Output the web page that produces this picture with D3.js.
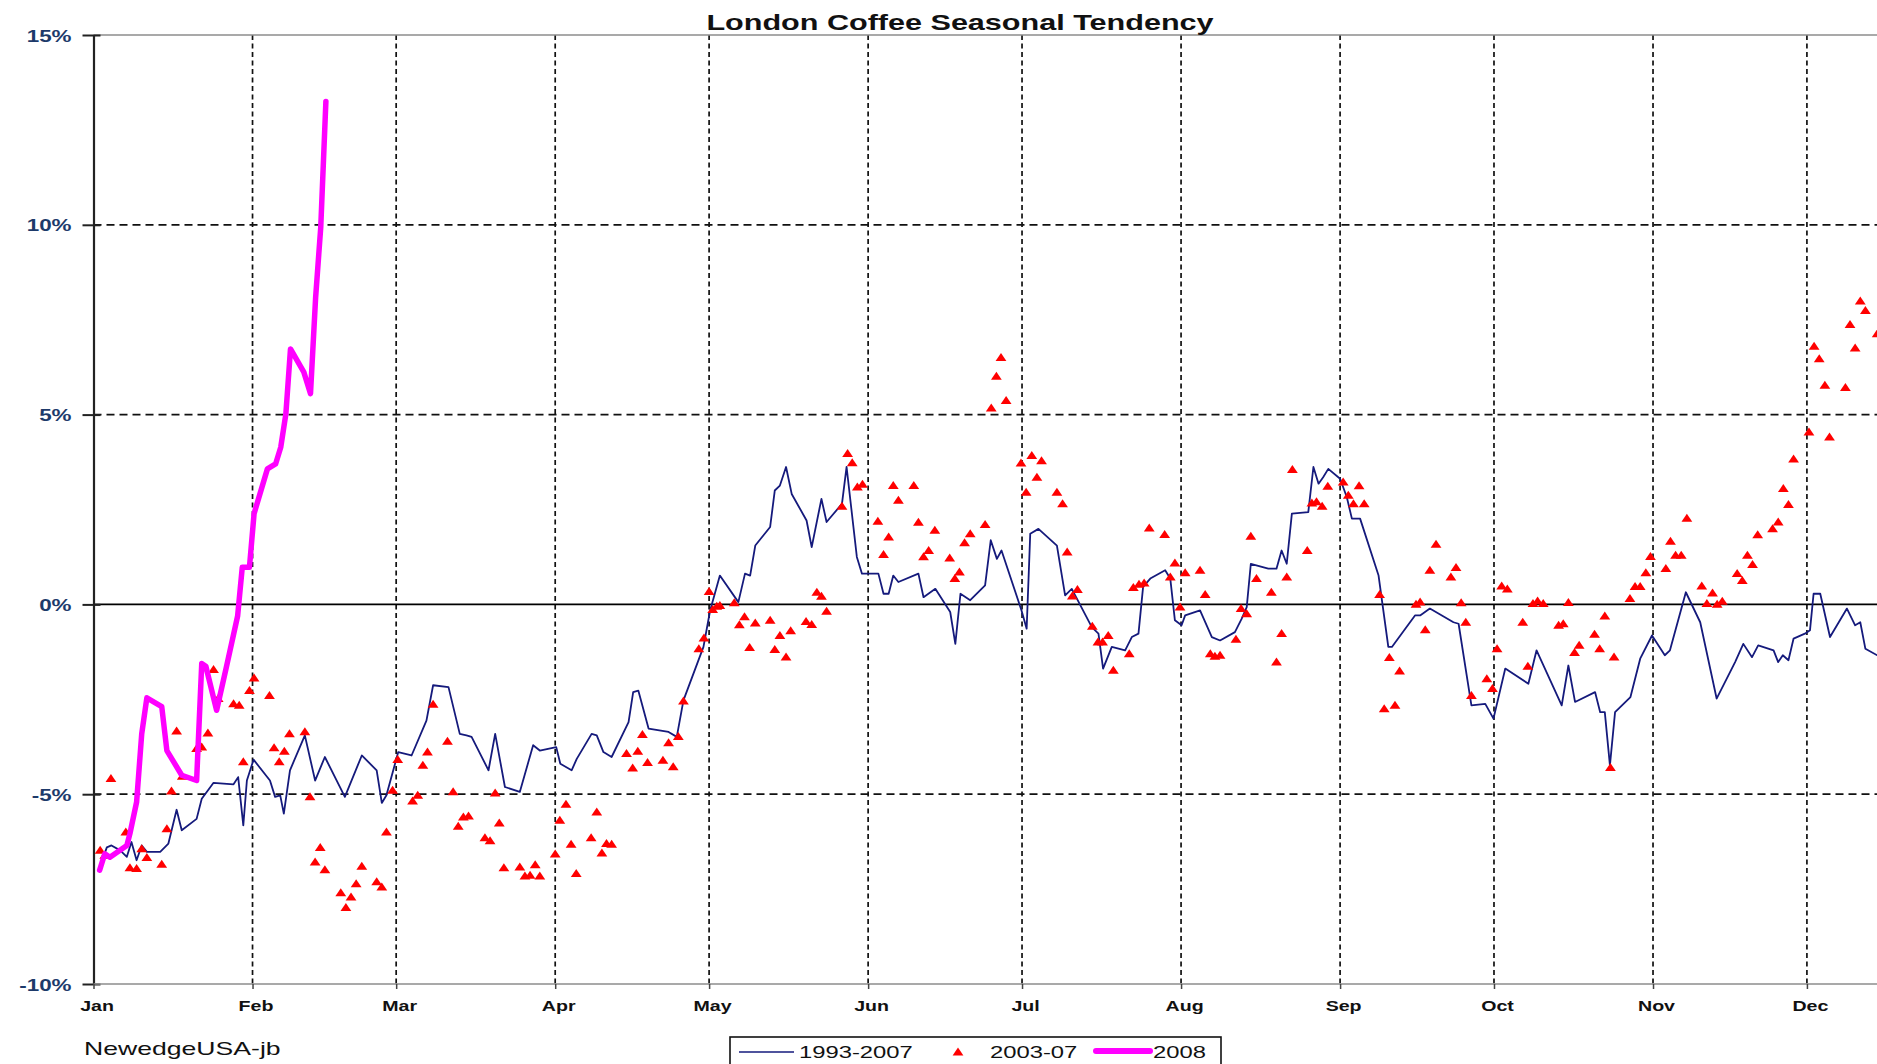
<!DOCTYPE html>
<html>
<head>
<meta charset="utf-8">
<title>London Coffee Seasonal Tendency</title>
<script src="https://cdn.jsdelivr.net/npm/d3@7"></script>
<style>
  html, body { margin: 0; padding: 0; background: #fff; }
  svg { display: block; font-family: Arial, "Liberation Sans", Helvetica, sans-serif; }
</style>
</head>
<body>
<svg id="chart" width="1877" height="1064"></svg>
<script>
// ---- data: [day of year (0 = Jan 1), % change] ----
const monthLabels = ["Jan","Feb","Mar","Apr","May","Jun","Jul","Aug","Sep","Oct","Nov","Dec"];
const yTicks = [-10, -5, 0, 5, 10, 15];
const seriesNames = ["1993-2007", "2003-07", "2008"];

// 1993-2007 average path
const avgSeries = [
  [1,-7.0],[2.6,-6.4],[3.5,-6.35],[5.2,-6.48],[6.5,-6.65],[7.4,-6.26],[8.4,-6.74],[9.4,-6.35],[10.4,-6.52],[13,-6.52],
  [14.6,-6.3],[16.2,-5.41],[17.2,-5.95],[20.1,-5.65],[21.1,-5.12],[23.4,-4.7],[27.3,-4.74],[28.2,-4.55],[29.2,-5.82],[29.9,-4.64],
  [31.2,-4.09],[34.4,-4.64],[35.4,-5.07],[36.4,-5.03],[37.1,-5.51],[38.3,-4.37],[41.2,-3.45],[43.2,-4.64],[45.1,-4.02],[49,-5.07],
  [52.3,-3.98],[55.2,-4.37],[56.2,-5.23],[57.1,-5.03],[59.4,-3.89],[62,-3.98],[64.9,-3.06],[66.2,-2.13],[69.2,-2.18],[71.4,-3.41],
  [72.7,-3.45],[73.7,-3.49],[77,-4.37],[78.3,-3.41],[80.2,-4.81],[83.1,-4.94],[85.7,-3.71],[87,-3.85],[90.2,-3.76],[91,-4.2],
  [93.2,-4.37],[94.2,-4.07],[97.1,-3.41],[98.1,-3.45],[99.4,-3.89],[101,-4.02],[104.3,-3.1],[105.2,-2.31],[106.2,-2.27],[108.2,-3.27],
  [112.1,-3.36],[113.7,-3.49],[115,-2.53],[118.9,-1.12],[120.2,-0.16],[122.1,0.76],[125.7,0.06],[127,0.81],[128,0.76],[129,1.55],
  [131.9,2.04],[132.8,3.0],[133.8,3.13],[135,3.62],[136.1,2.91],[139,2.21],[140,1.51],[141.9,2.78],[142.9,2.17],[145.9,2.65],
  [146.8,3.62],[148.8,1.25],[149.8,0.81],[153,0.81],[154,0.28],[155,0.28],[155.9,0.76],[156.9,0.59],[160.8,0.81],[161.8,0.19],
  [164.1,0.41],[167,-0.2],[168,-1.04],[169,0.28],[170.9,0.11],[173.8,0.5],[174.9,1.69],[176.1,1.2],[177,1.42],[180.9,-0.16],
  [181.9,-0.64],[182.6,1.86],[184.2,1.99],[187.8,1.55],[189.4,0.24],[190.7,0.41],[194.6,-0.6],[195.9,-0.77],[196.8,-1.69],[198.5,-1.12],
  [201.1,-1.21],[202.4,-0.86],[203.7,-0.77],[204.6,0.46],[206,0.68],[208.9,0.9],[209.9,0.68],[210.8,-0.42],[212.1,-0.55],[212.8,-0.29],
  [215.7,-0.16],[218,-0.86],[219.6,-0.95],[222.5,-0.73],[223.8,-0.38],[224.8,-0.07],[225.6,1.07],[229,0.94],[230.6,0.94],[231.6,1.42],
  [232.6,1.07],[233.6,2.39],[236.8,2.43],[237.8,3.62],[238.8,3.18],[239.7,3.35],[240.7,3.57],[243,3.31],[244.3,2.83],[245.3,2.26],
  [246.9,2.26],[250.5,0.76],[252.4,-1.12],[253.1,-1.12],[257.6,-0.29],[258.6,-0.29],[260.5,-0.11],[265.1,-0.47],[266.1,-0.51],[268.6,-2.66],
  [271.3,-2.62],[272.9,-3.01],[275.2,-1.69],[279.7,-2.09],[281.3,-1.21],[286.2,-2.66],[287.5,-1.61],[288.8,-2.57],[292.7,-2.31],[293.7,-2.84],
  [294.6,-2.84],[295.6,-4.24],[296.6,-2.84],[299.6,-2.44],[301.5,-1.43],[303.8,-0.82],[306.3,-1.34],[307.3,-1.21],[310.4,0.32],[313.2,-0.47],
  [316.4,-2.48],[320,-1.52],[321.6,-1.04],[323.3,-1.39],[324.5,-1.08],[327.5,-1.21],[328.4,-1.52],[329.3,-1.34],[330.4,-1.47],[331.4,-0.9],
  [333.6,-0.77],[334.6,-0.68],[335.3,0.28],[336.6,0.28],[338.5,-0.86],[341.8,-0.11],[343.4,-0.55],[344.4,-0.47],[345.4,-1.17],[347.7,-1.34],
  [349,-1.4]
];

// 2003-07 average, drawn as markers
const recentSeries = [
  [1.3,-6.48],[2.2,-6.61],[3.4,-4.59],[6.3,-6.0],[7.1,-6.94],[8.4,-6.96],[9.4,-6.44],[10.4,-6.67],[13.3,-6.85],[14.3,-5.91],
  [15.2,-4.92],[16.2,-3.34],[17.3,-4.53],[20.1,-3.8],[21.1,-3.76],[22.3,-3.39],[23.4,-1.72],[24.3,-2.48],[27.3,-2.62],[28.4,-2.66],
  [29.2,-4.15],[30.4,-2.27],[31.3,-1.94],[34.3,-2.4],[35.2,-3.78],[36.2,-4.15],[37.2,-3.87],[38.2,-3.41],[41.2,-3.36],[42.2,-5.07],
  [43.2,-6.79],[44.2,-6.41],[45.1,-6.99],[48.2,-7.6],[49.2,-7.99],[50.2,-7.71],[51.2,-7.36],[52.3,-6.9],[55.2,-7.31],[56.2,-7.45],
  [57.1,-6.0],[58.3,-4.9],[59.3,-4.09],[62.2,-5.18],[63.2,-5.03],[64.2,-4.24],[65.1,-3.89],[66.2,-2.63],[69.0,-3.61],[70.1,-4.94],
  [71.1,-5.85],[72.1,-5.6],[73.1,-5.58],[76.3,-6.15],[77.3,-6.23],[78.3,-4.97],[79.1,-5.76],[80.0,-6.94],[83.1,-6.92],[84.1,-7.16],
  [85.1,-7.14],[86.1,-6.86],[87.0,-7.16],[90.0,-6.58],[90.9,-5.69],[92.1,-5.27],[93.1,-6.32],[94.1,-7.09],
  [97.0,-6.15],[98.1,-5.47],[99.1,-6.55],[100.0,-6.3],[101.0,-6.32],[103.9,-3.93],[105.1,-4.31],[106.1,-3.87],[107.0,-3.43],[108.0,-4.17],
  [111.0,-4.11],[112.1,-3.65],[113.0,-4.28],[114.0,-3.48],[115.0,-2.55],[118.0,-1.17],[119.0,-0.89],[120.0,0.34],[120.7,-0.14],[121.5,-0.05],
  [122.1,-0.03],[124.9,0.04],[125.9,-0.54],[126.9,-0.33],[127.9,-1.14],[129.0,-0.49],[131.9,-0.42],[132.8,-1.19],[133.8,-0.82],[135.0,-1.39],
  [135.9,-0.7],[138.9,-0.45],[140.0,-0.53],[141.0,0.32],[141.9,0.21],[142.9,-0.18],[145.9,2.58],[147.0,3.97],[147.9,3.73],[148.9,3.09],
  [149.9,3.16],[152.9,2.19],[154.0,1.31],[155.0,1.77],[155.9,3.13],[156.9,2.74],[159.9,3.13],[160.8,2.16],[161.8,1.25],[162.8,1.42],
  [164.0,1.95],[166.9,1.22],[167.9,0.68],[168.8,0.85],[169.8,1.62],[170.9,1.86],[173.8,2.1],
  [175.0,5.17],[176.0,6.01],[176.9,6.5],[177.9,5.37],[180.8,3.72],[181.8,2.95],[182.9,3.92],[183.9,3.35],[184.8,3.78],[187.8,2.95],
  [188.9,2.65],[189.8,1.38],[190.8,0.22],[191.8,0.39],[194.7,-0.58],[195.8,-0.99],[196.7,-0.99],[197.8,-0.82],[198.8,-1.74],[201.9,-1.3],
  [202.7,0.44],[203.8,0.53],[204.8,0.56],[205.8,2.01],[208.8,1.84],[209.9,0.72],[210.8,1.09],[211.8,-0.07],[212.8,0.83],[215.7,0.9],
  [216.7,0.26],[217.7,-1.3],[218.6,-1.37],[219.6,-1.34],[222.7,-0.92],[223.7,-0.11],[224.8,-0.25],[225.6,1.79],[226.7,0.68],[229.6,0.32],
  [230.6,-1.52],[231.6,-0.77],[232.6,0.72],[233.7,3.55],[236.6,1.42],[237.5,2.67],[238.4,2.7],[239.5,2.58],[240.6,3.11],
  [243.6,3.22],[244.6,2.87],[245.6,2.65],[246.7,3.12],[247.7,2.65],[250.7,0.26],[251.6,-2.75],[252.6,-1.4],[253.7,-2.66],[254.6,-1.76],
  [257.8,0.0],[258.6,0.06],[259.6,-0.67],[260.5,0.9],[261.7,1.58],[264.6,0.72],[265.6,0.97],[266.6,0.04],[267.5,-0.47],[268.6,-2.4],
  [271.6,-1.96],[272.7,-2.22],[273.6,-1.17],[274.5,0.48],[275.6,0.4],[278.6,-0.47],[279.6,-1.63],[280.6,0.02],[281.5,0.09],[282.6,0.02],
  [285.6,-0.55],[286.5,-0.51],[287.5,0.05],[288.7,-1.27],[289.6,-1.08],[292.6,-0.79],[293.6,-1.17],[294.6,-0.31],[295.7,-4.3],[296.4,-1.39],
  [299.5,0.15],[300.5,0.47],[301.5,0.47],[302.6,0.83],[303.5,1.26],[306.5,0.94],[307.4,1.66],[308.4,1.29],[309.5,1.29],[310.6,2.27],
  [313.5,0.48],[314.5,0.02],[315.6,0.3],[316.5,0.0],[317.5,0.08],[320.4,0.81],[321.4,0.63],[322.4,1.29],[323.4,1.05],[324.4,1.83],
  [327.3,1.99],[328.4,2.17],[329.4,3.05],[330.4,2.63],[331.4,3.83],[334.4,4.54],[335.4,6.8],[336.4,6.47],[337.5,5.77],[338.4,4.41],
  [341.5,5.71],[342.4,7.37],[343.4,6.75],[344.4,7.99],[345.4,7.74],[347.7,7.13]
];

// 2008 year to date
const series2008 = [
  [1.2,-7.0],[2.2,-6.57],[3.2,-6.66],[6.5,-6.35],[7.1,-6.04],[8.4,-5.21],[9.4,-3.41],[10.4,-2.46],[13.3,-2.69],[14.3,-3.85],
  [17.2,-4.5],[20.1,-4.64],[21.1,-1.56],[21.9,-1.63],[24,-2.79],[25.9,-1.65],[28.1,-0.3],[29,0.98],[30.4,0.98],[31.3,2.39],
  [33.9,3.57],[35.5,3.7],[36.5,4.14],[37.5,5.02],[38.4,6.73],[41,6.12],[42.3,5.55],[43.3,8.09],[44.3,9.94],[45.3,13.25]
];

// ---- layout ----
const W = 1877, H = 1064;
const axisX = 93.5, plotTop = 35, plotBottom = 984;
const dayPx = 5.13;
const STRETCH = 1.4;           // wide lettering used throughout the chart
const yearStart = Date.UTC(2007, 0, 1);
const toDate = d => new Date(yearStart + d * 864e5);

const svg = d3.select("#chart");
svg.append("rect").attr("width", W).attr("height", H).attr("fill", "#fff");

const x = d3.scaleUtc()
  .domain([new Date(yearStart), new Date(Date.UTC(2008, 0, 1))])
  .range([axisX, axisX + 365 * dayPx]);
const y = d3.scaleLinear().domain([-10, 15]).range([plotBottom, plotTop]);

function wideText(parent, px, py, str, opts) {
  return parent.append("text")
    .attr("transform", `translate(${px},${py}) scale(${opts.stretch || STRETCH},1)`)
    .attr("font-size", opts.size)
    .attr("font-weight", opts.weight || "normal")
    .attr("fill", opts.fill || "#000")
    .attr("text-anchor", opts.anchor || "start")
    .text(str);
}

svg.append("defs").append("clipPath").attr("id", "plot-clip")
  .append("rect").attr("x", axisX).attr("y", plotTop - 10).attr("width", W - axisX).attr("height", plotBottom - plotTop + 20);

// ---- grid ----
const grid = svg.append("g");
const monthStarts = d3.utcMonth.range(new Date(yearStart), new Date(Date.UTC(2008, 0, 1)));

grid.selectAll(".vgrid").data(monthStarts.slice(1)).join("line")
  .attr("x1", d => x(d)).attr("x2", d => x(d))
  .attr("y1", plotTop).attr("y2", plotBottom)
  .attr("stroke", "#111").attr("stroke-width", 1.7).attr("stroke-dasharray", "5,3.5");

grid.selectAll(".hgrid").data([10, 5, -5]).join("line")
  .attr("x1", axisX).attr("x2", W)
  .attr("y1", d => y(d)).attr("y2", d => y(d))
  .attr("stroke", "#111").attr("stroke-width", 1.7).attr("stroke-dasharray", "8,5");

// plot frame: grey top and bottom edges, black zero line
grid.append("line").attr("x1", axisX).attr("x2", W).attr("y1", y(15)).attr("y2", y(15))
  .attr("stroke", "#8c8c8c").attr("stroke-width", 1.6);
grid.append("line").attr("x1", axisX).attr("x2", W).attr("y1", y(0)).attr("y2", y(0))
  .attr("stroke", "#000").attr("stroke-width", 1.8);

// ---- y axis ----
const yAxis = svg.append("g").attr("transform", `translate(${axisX},0)`)
  .call(d3.axisLeft(y).tickValues(yTicks).tickSize(11).tickSizeOuter(0).tickFormat(d => d + "%"));
yAxis.select(".domain").attr("stroke", "#222").attr("stroke-width", 2.2);
yAxis.selectAll(".tick line").attr("x1", 7).attr("stroke", "#222").attr("stroke-width", 2);
yAxis.selectAll(".tick text")
  .attr("x", null).attr("dy", null)
  .attr("transform", `translate(-22,6) scale(${STRETCH},1)`)
  .attr("font-size", 16).attr("font-weight", "bold").attr("fill", "#1d3a6a")
  .attr("font-family", "Arial, 'Liberation Sans', sans-serif");

// ---- x axis ----
const xAxis = svg.append("g").attr("transform", `translate(0,${plotBottom})`)
  .call(d3.axisBottom(x).tickValues(monthStarts).tickSize(5).tickSizeOuter(0)
    .tickFormat(d => monthLabels[d.getUTCMonth()]));
xAxis.select(".domain").attr("d", `M${axisX},0H${W}`).attr("stroke", "#8c8c8c").attr("stroke-width", 1.6);
xAxis.selectAll(".tick line").attr("stroke", "#444").attr("stroke-width", 1.5);
xAxis.selectAll(".tick text")
  .attr("y", null).attr("dy", null)
  .attr("transform", `translate(3,27) scale(${STRETCH},1)`)
  .attr("font-size", 14).attr("font-weight", "bold").attr("fill", "#111")
  .attr("font-family", "Arial, 'Liberation Sans', sans-serif");

// ---- series ----
const plot = svg.append("g").attr("clip-path", "url(#plot-clip)");

const line = d3.line().x(d => x(toDate(d[0]))).y(d => y(d[1]));

plot.append("path").datum(avgSeries)
  .attr("d", line).attr("fill", "none")
  .attr("stroke", "#151a7c").attr("stroke-width", 1.8).attr("stroke-linejoin", "round");

const triangle = {
  draw(ctx) {
    ctx.moveTo(0, -4.6);
    ctx.lineTo(5.4, 3.4);
    ctx.lineTo(-5.4, 3.4);
    ctx.closePath();
  }
};
const marker = d3.symbol().type(triangle);

plot.selectAll(".tri").data(recentSeries).join("path")
  .attr("d", marker)
  .attr("transform", d => `translate(${x(toDate(d[0]))},${y(d[1])})`)
  .attr("fill", "#ff0000");

plot.append("path").datum(series2008)
  .attr("d", line).attr("fill", "none")
  .attr("stroke", "#ff00ff").attr("stroke-width", 5.5)
  .attr("stroke-linejoin", "round").attr("stroke-linecap", "round");

// ---- title ----
wideText(svg, 960, 30, "London Coffee Seasonal Tendency", { size: 22, weight: "bold", anchor: "middle", fill: "#111", stretch: 1.39 });

// ---- credit ----
wideText(svg, 84, 1055, "NewedgeUSA-jb", { size: 19, fill: "#111" });

// ---- legend ----
const legend = svg.append("g");
legend.append("rect").attr("x", 730).attr("y", 1037).attr("width", 491).attr("height", 40)
  .attr("fill", "#fff").attr("stroke", "#111").attr("stroke-width", 1.6);

legend.append("line").attr("x1", 739).attr("x2", 794).attr("y1", 1052).attr("y2", 1052)
  .attr("stroke", "#151a7c").attr("stroke-width", 1.7);
wideText(legend, 799, 1058, seriesNames[0], { size: 17, fill: "#111" });

legend.append("path").attr("d", marker)
  .attr("transform", "translate(958,1052)").attr("fill", "#ff0000");
wideText(legend, 990, 1058, seriesNames[1], { size: 17, fill: "#111" });

legend.append("line").attr("x1", 1096).attr("x2", 1150).attr("y1", 1051).attr("y2", 1051)
  .attr("stroke", "#ff00ff").attr("stroke-width", 6).attr("stroke-linecap", "round");
wideText(legend, 1153, 1058, seriesNames[2], { size: 17, fill: "#111" });
</script>
</body>
</html>
